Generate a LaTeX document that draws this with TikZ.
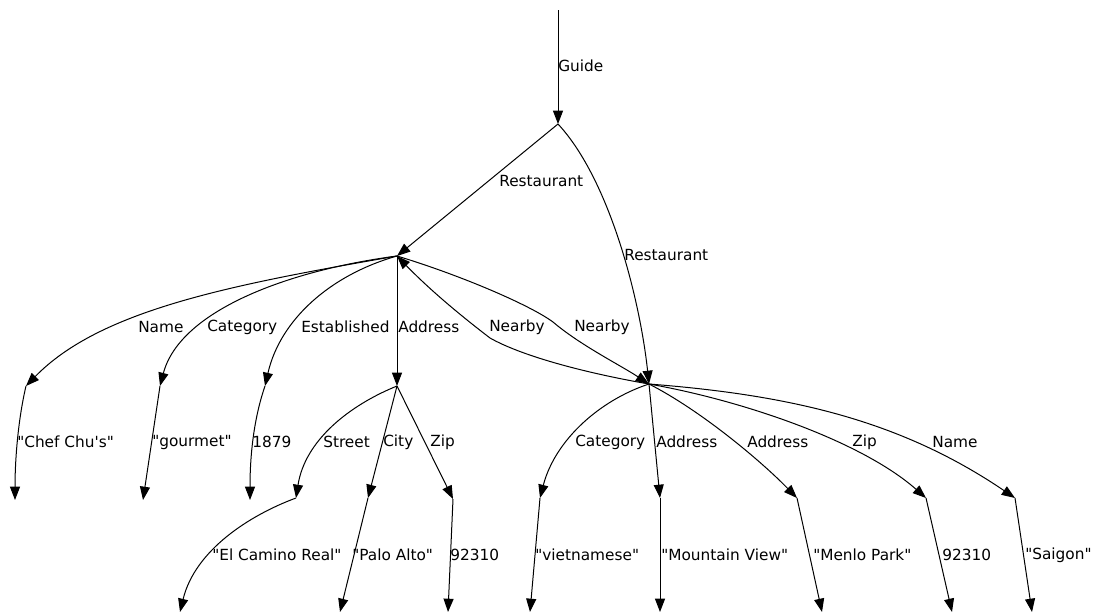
\documentclass[tikz,border=0pt]{standalone}
\usepackage{fontspec}
\setmainfont{DejaVu Sans}[Ligatures=TeXOff]
\usetikzlibrary{arrows.meta}
\begin{document}
\begin{tikzpicture}[x=0.75pt,y=-0.75pt,
  edge/.style={line width=0.75pt,-{Triangle[length=10pt,width=7.5pt]}},
  lbl/.style={inner sep=0pt,anchor=west,font=\fontsize{11.5pt}{13pt}\selectfont}]
\useasboundingbox (0,0) rectangle (1094,615);
% points
\coordinate (top) at (558,10);
\coordinate (G) at (558,124);
\coordinate (R1) at (397,256);
\coordinate (R2) at (649,384);
\coordinate (n1) at (26,386);
\coordinate (c1) at (160,386);
\coordinate (e1) at (265,386);
\coordinate (A) at (397,386);
\coordinate (n1b) at (15,500);
\coordinate (c1b) at (143,500);
\coordinate (e1b) at (250,500);
\coordinate (S) at (296,498);
\coordinate (C) at (368,498);
\coordinate (Z) at (453,499);
\coordinate (Sb) at (180,612);
\coordinate (Cb) at (340,612);
\coordinate (Zb) at (448,612);
\coordinate (c2) at (540,498);
\coordinate (a2) at (660,498);
\coordinate (a3) at (797,498);
\coordinate (z2) at (926,498);
\coordinate (m2) at (1015,498);
\coordinate (c2b) at (530,612);
\coordinate (a2b) at (660,612);
\coordinate (a3b) at (822,612);
\coordinate (z2b) at (952,612);
\coordinate (m2b) at (1032,612);
\coordinate (nbU) at (553,322);
\coordinate (nbL) at (490,338);
% edges
\draw[edge] (top) -- (G);
\draw[edge] (G) -- (R1);
\draw[edge] (G) .. controls (610,180) and (640,300) .. (R2);
\draw[edge] (R1) .. controls (230,285) and (100,310) .. (n1);
\draw[edge] (R1) .. controls (290,270) and (180,310) .. (c1);
\draw[edge] (R1) .. controls (330,275) and (280,320) .. (e1);
\draw[edge] (R1) -- (A);
\draw[edge] (R1) .. controls (460,275) and (530,305) .. (nbU) .. controls (580,345) and (620,365) .. (R2);
\draw[edge] (R2) .. controls (580,372) and (520,355) .. (nbL) .. controls (460,315) and (430,290) .. (R1);
\draw[edge] (n1) .. controls (18,420) and (15,460) .. (n1b);
\draw[edge] (c1) -- (c1b);
\draw[edge] (e1) .. controls (255,415) and (250,450) .. (e1b);
\draw[edge] (A) .. controls (350,405) and (305,440) .. (S);
\draw[edge] (A) -- (C);
\draw[edge] (A) -- (Z);
\draw[edge] (S) .. controls (250,515) and (195,550) .. (Sb);
\draw[edge] (C) -- (Cb);
\draw[edge] (Z) -- (Zb);
\draw[edge] (R2) .. controls (600,400) and (555,440) .. (c2);
\draw[edge] (R2) -- (a2);
\draw[edge] (R2) .. controls (700,410) and (760,460) .. (a3);
\draw[edge] (R2) .. controls (740,400) and (860,440) .. (z2);
\draw[edge] (R2) .. controls (790,395) and (900,420) .. (m2);
\draw[edge] (c2) -- (c2b);
\draw[edge] (a2) -- (a2b);
\draw[edge] (a3) -- (a3b);
\draw[edge] (z2) -- (z2b);
\draw[edge] (m2) -- (m2b);
% labels
\node[lbl] (lG) at (558,66) {Guide};
\node[lbl] (lR1) at (499,181) {Restaurant};
\node[lbl] (lR2) at (624,255) {Restaurant};
\node[lbl] (lN1) at (138,327) {Name};
\node[lbl] (lC1) at (207,327) {Category};
\node[lbl] (lE1) at (301,327) {Established};
\node[lbl] (lA1) at (398,327) {Address};
\node[lbl] (lNb1) at (489,327) {Nearby};
\node[lbl] (lNb2) at (574,327) {Nearby};
\node[lbl] (lChef) at (17,442) {"Chef Chu's"};
\node[lbl] (lGour) at (152,442) {"gourmet"};
\node[lbl] (l1879) at (252,442) {1879};
\node[lbl] (lStr) at (323,442) {Street};
\node[lbl] (lCity) at (383,442) {City};
\node[lbl] (lZip) at (430,442) {Zip};
\node[lbl] (lC2) at (575,442) {Category};
\node[lbl] (lA2) at (656,442) {Address};
\node[lbl] (lA3) at (747,442) {Address};
\node[lbl] (lZ2) at (852,442) {Zip};
\node[lbl] (lN2) at (932,442) {Name};
\node[lbl] (lECR) at (212,555) {"El Camino Real"};
\node[lbl] (lPA) at (352,555) {"Palo Alto"};
\node[lbl] (lZip1) at (450,555) {92310};
\node[lbl] (lViet) at (535,555) {"vietnamese"};
\node[lbl] (lMV) at (661,555) {"Mountain View"};
\node[lbl] (lMP) at (813,555) {"Menlo Park"};
\node[lbl] (lZip2) at (942,555) {92310};
\node[lbl] (lSai) at (1025,555) {"Saigon"};
\end{tikzpicture}
\end{document}
